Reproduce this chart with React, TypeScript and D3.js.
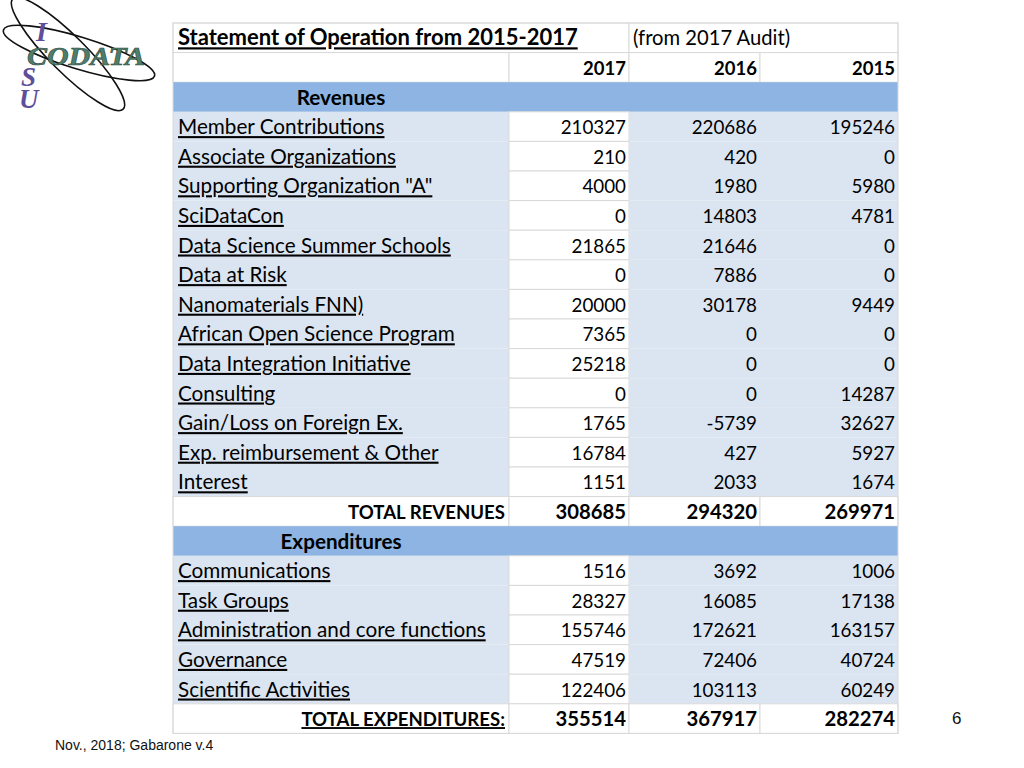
import React from "react";
import * as d3 from "d3";

const years = ["2017", "2016", "2015"];

const revenueLabels = [
  "Member Contributions ",
  "Associate Organizations",
  'Supporting Organization "A"',
  "SciDataCon",
  "Data Science Summer Schools",
  "Data at Risk",
  "Nanomaterials FNN)",
  "African Open Science Program",
  "Data Integration Initiative",
  "Consulting",
  "Gain/Loss on Foreign Ex.",
  "Exp. reimbursement & Other",
  "Interest",
];
const revenue2017 = [210327, 210, 4000, 0, 21865, 0, 20000, 7365, 25218, 0, 1765, 16784, 1151];
const revenue2016 = [220686, 420, 1980, 14803, 21646, 7886, 30178, 0, 0, 0, -5739, 427, 2033];
const revenue2015 = [195246, 0, 5980, 4781, 0, 0, 9449, 0, 0, 14287, 32627, 5927, 1674];
const totalRevenues = [308685, 294320, 269971];

const expenseLabels = [
  "Communications",
  "Task Groups",
  "Administration and core functions",
  "Governance",
  "Scientific Activities",
];
const expense2017 = [1516, 28327, 155746, 47519, 122406];
const expense2016 = [3692, 16085, 172621, 72406, 103113];
const expense2015 = [1006, 17138, 163157, 40724, 60249];
const totalExpenditures = [355514, 367917, 282274];

type Row =
  | { kind: "title" }
  | { kind: "years" }
  | { kind: "section"; label: string }
  | { kind: "data"; label: string; values: number[] }
  | { kind: "total"; label: string; values: number[]; underline: boolean };

const rows: Row[] = [
  { kind: "title" },
  { kind: "years" },
  { kind: "section", label: "Revenues" },
  ...revenueLabels.map((l, i) => ({
    kind: "data" as const,
    label: l,
    values: [revenue2017[i], revenue2016[i], revenue2015[i]],
  })),
  { kind: "total", label: "TOTAL REVENUES", values: totalRevenues, underline: false },
  { kind: "section", label: "Expenditures" },
  ...expenseLabels.map((l, i) => ({
    kind: "data" as const,
    label: l,
    values: [expense2017[i], expense2016[i], expense2015[i]],
  })),
  { kind: "total", label: "TOTAL EXPENDITURES:", values: totalExpenditures, underline: true },
];

const FONT = "Lato, 'Open Sans', sans-serif";
const LIGHT = "#DBE5F1";
const BAND = "#8DB4E2";
const GRID = "#D9D9D9";
const SERIF = "'Liberation Serif', 'DejaVu Serif', serif";

export default function App() {
  const y = d3
    .scaleBand<number>()
    .domain(d3.range(rows.length))
    .range([23, 23 + 29.6 * rows.length])
    .paddingInner(0);
  const colEdges = [173, 509, 629, 760, 898];
  const col = d3.scaleOrdinal<number, number>().domain([0, 1, 2, 3, 4]).range(colEdges);
  const h = y.bandwidth();

  const cells: React.ReactNode[] = [];
  const texts: React.ReactNode[] = [];

  rows.forEach((r, i) => {
    const y0 = y(i)!;
    const cy = y0 + h / 2;
    const base = cy + 7.5;
    if (r.kind === "title") {
      cells.push(
        <rect key={`t1`} x={col(0)} y={y0} width={col(2) - col(0)} height={h} fill="#fff" stroke={GRID} />,
        <rect key={`t2`} x={col(2)} y={y0} width={col(4) - col(2)} height={h} fill="#fff" stroke={GRID} />
      );
      texts.push(
        <text key="title" x={178} y={base} fontFamily={FONT} fontSize={22} fontWeight={700} textDecoration="underline">
          Statement of Operation from 2015-2017
        </text>,
        <text key="audit" x={633} y={base} fontFamily={FONT} fontSize={20.2}>
          (from 2017 Audit)
        </text>
      );
    } else if (r.kind === "years") {
      for (let c = 0; c < 4; c++)
        cells.push(
          <rect key={`y${c}`} x={col(c)} y={y0} width={col(c + 1) - col(c)} height={h} fill="#fff" stroke={GRID} />
        );
      years.forEach((yr, k) =>
        texts.push(
          <text key={`yr${k}`} x={col(k + 2) - 3} y={base} textAnchor="end" fontFamily={FONT} fontSize={18.5} fontWeight={700}>
            {yr}
          </text>
        )
      );
    } else if (r.kind === "section") {
      cells.push(<rect key={`s${i}`} x={col(0)} y={y0} width={col(4) - col(0)} height={h} fill={BAND} />);
      texts.push(
        <text key={`sl${i}`} x={(col(0) + col(1)) / 2} y={base} textAnchor="middle" fontFamily={FONT} fontSize={20.7} fontWeight={700}>
          {r.label}
        </text>
      );
    } else if (r.kind === "data") {
      cells.push(
        <rect key={`d0${i}`} x={col(0)} y={y0} width={col(1) - col(0)} height={h} fill={LIGHT} />,
        <rect key={`d1${i}`} x={col(1)} y={y0} width={col(2) - col(1)} height={h} fill="#fff" stroke={GRID} />,
        <rect key={`d2${i}`} x={col(2)} y={y0} width={col(4) - col(2)} height={h} fill={LIGHT} />
      );
      texts.push(
        <text key={`dl${i}`} x={178} y={base} fontFamily={FONT} fontSize={20.7} textDecoration="underline">
          {r.label}
        </text>
      );
      r.values.forEach((v, k) =>
        texts.push(
          <text key={`dv${i}-${k}`} x={col(k + 2) - 3} y={base} textAnchor="end" fontFamily={FONT} fontSize={18.8}>
            {String(v)}
          </text>
        )
      );
    } else {
      for (let c = 0; c < 4; c++)
        cells.push(
          <rect key={`to${i}-${c}`} x={col(c)} y={y0} width={col(c + 1) - col(c)} height={h} fill="#fff" stroke={GRID} />
        );
      texts.push(
        <text key={`tl${i}`} x={col(1) - 4} y={base} textAnchor="end" fontFamily={FONT} fontSize={18.6} fontWeight={700} textDecoration={r.underline ? "underline" : undefined}>
          {r.label}
        </text>
      );
      r.values.forEach((v, k) =>
        texts.push(
          <text key={`tv${i}-${k}`} x={col(k + 2) - 3} y={base} textAnchor="end" fontFamily={FONT} fontSize={20.3} fontWeight={700}>
            {String(v)}
          </text>
        )
      );
    }
  });

  return (
    <svg
      width={1024}
      height={768}
      style={{ position: "absolute", left: 0, top: 0, background: "#fff" }}
    >
      <rect width={1024} height={768} fill="#fff" />
      {/* logo */}
      <g>
        <ellipse cx={79} cy={53} rx={79} ry={16} transform="rotate(17 79 53)" fill="none" stroke="#111" strokeWidth={1.6} />
        <ellipse cx={68} cy={54} rx={78} ry={18} transform="rotate(45 68 54)" fill="none" stroke="#111" strokeWidth={1.6} />
        <text x={36} y={41} fontFamily={SERIF} fontStyle="italic" fontWeight={700} fontSize={28} fill="#5E4F9A">I</text>
        <text x={27} y={65} fontFamily={SERIF} fontStyle="italic" fontWeight={700} fontSize={26} fill="#4E7E6C" stroke="#2E4A40" strokeWidth={0.6} textLength={118} lengthAdjust="spacingAndGlyphs">CODATA</text>
        <text x={21} y={86} fontFamily={SERIF} fontStyle="italic" fontWeight={700} fontSize={27} fill="#5E4F9A">S</text>
        <text x={19} y={108} fontFamily={SERIF} fontStyle="italic" fontWeight={700} fontSize={27} fill="#5E4F9A">U</text>
      </g>
      {cells}
      <rect x={colEdges[0]} y={23} width={colEdges[4] - colEdges[0]} height={29.6 * rows.length} fill="none" stroke={GRID} />
      {texts}
      <text x={55} y={750} fontFamily="'Liberation Sans', Arial, sans-serif" fontSize={14} fill="#111">
        Nov., 2018; Gabarone v.4
      </text>
      <text x={952} y={724} fontFamily="'Liberation Sans', Arial, sans-serif" fontSize={17} fill="#111">
        6
      </text>
    </svg>
  );
}
